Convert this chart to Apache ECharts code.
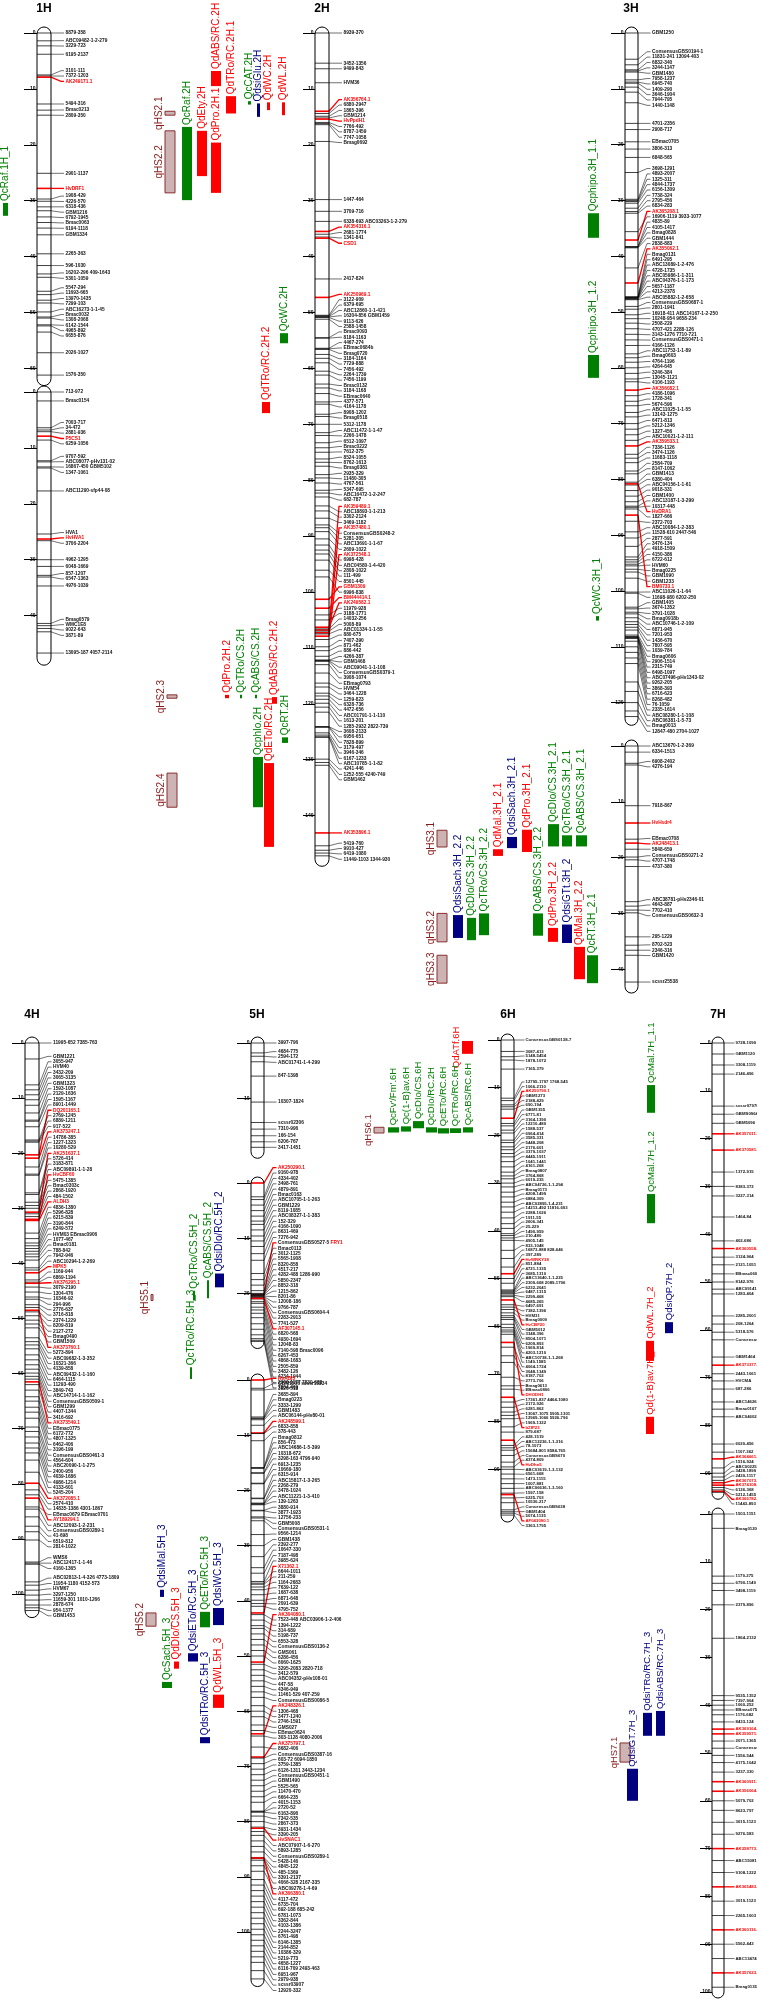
<!DOCTYPE html>
<html><head><meta charset="utf-8">
<script src="https://cdn.jsdelivr.net/npm/echarts@6/dist/echarts.min.js"></script>
<style>html,body{margin:0;padding:0;background:#fff}#c{width:757px;height:2003px}</style>
</head><body><div id="c"></div>
<script>
const FONT = 'Liberation Sans';

// ================= DATA =================
const CHROM_NAMES = ['1H','2H','3H','4H','5H','6H','7H'];
const SEG_LEN = {'1H_1':62,'1H_2':47.8,'2H':148,'3H_1':123,'3H_2':43.2,'4H':103.2,'5H_1':19.8,'5H_2':28.9,'5H_3':108.8,'6H':99.8,'7H_1':94.2,'7H_2':100};
const TICKS = {
 '1H_1':[0,10,20,30,40,50,60],'1H_2':[0,10,20,30,40],
 '2H':[0,10,20,30,40,50,60,70,80,90,100,110,120,130,140],
 '3H_1':[0,10,20,30,40,50,60,70,80,90,100,110,120],'3H_2':[0,10,20,30,40],
 '4H':[0,10,20,30,40,50,60,70,80,90,100],
 '5H_1':[0,10],'5H_2':[0,10,20],'5H_3':[0,10,20,30,40,50,60,70,80,90,100],
 '6H':[0,10,20,30,40,50,60,70,80,90],
 '7H_1':[0,10,20,30,40,50,60,70,80,90],'7H_2':[0,10,20,30,40,50,60,70,80,90,100]
};

// markers: [cM, name, highlighted(1) / partly highlighted(2)]
const M1H_1 = [[0,"8879-358"],[1.4,"ABC09482-1-2-279"],[2.3,"3229-723"],[3.8,"6195-2137"],[7.5,"3101-111"],[7.7,"7372-1203"],[7.9,"AK249171.1",1],[12.7,"5494-316"],[13.8,"Bmac0213"],[14.7,"2809-350"],[25.1,"2901-1137"],[27.8,"HvDRF1",1],[29.7,"1908-429"],[30.1,"4226-570"],[31.1,"6318-436"],[31.8,"GBM1216"],[32.9,"6792-1945"],[33.9,"Bmac0063"],[34.9,"6194-1118"],[36.1,"GBM1334"],[39.5,"2265-363"],[41.6,"596-1030"],[43.1,"16202-296 409-1643"],[43.7,"5301-1059"],[46.2,"5547-294"],[46.8,"11693-665"],[47.8,"13970-1435"],[48.3,"7299-103"],[49.9,"ABC16273-1-1-45"],[50.8,"Bmac0032"],[51.0,"1308-2068"],[52.2,"6142-1544"],[52.4,"4965-892"],[53.5,"6655-876"],[57.2,"2026-1027"],[61.2,"1576-350"]];
const M1H_2 = [[0,"713-972"],[1.6,"Bmac0154"],[6.4,"7003-717"],[6.8,"34-472"],[7.1,"2881-936"],[7.9,"P5CS1",1],[8.6,"6259-1056"],[12.3,"9707-592"],[12.5,"ABC08077-pHv131-02"],[13.4,"16867-450 GBM5102"],[13.6,"1347-1061"],[17.7,"ABC11290-sfp44-08"],[25.4,"HVA1"],[26.3,"HvHVA1",1],[26.6,"3706-2204"],[30,"4962-1295"],[31.2,"6048-1669"],[32.8,"857-1207"],[33.1,"6547-1363"],[34.7,"4976-1039"],[41.4,"Bmag0579"],[41.8,"WMC1E8"],[42.3,"9022-643"],[42.9,"3871-89"],[46.7,"13095-187 4057-2114"]];
const M2H = [[0,"8939-370"],[5.4,"3452-1356"],[6.4,"9499-843"],[8.9,"HVM36"],[14.0,"AK356764.1",1],[14.4,"6880-2947"],[14.9,"1865-396"],[15.2,"GBM1214"],[15.4,"HvPpdH1",1],[16.0,"7766-492"],[16.2,"8787-1459"],[16.4,"7747-1058"],[19.4,"Bmag0692"],[29.8,"1447-464"],[31.9,"3709-716"],[33.7,"6338-693 ABC03263-1-2-279"],[35.5,"AK354316.1",1],[36.0,"2681-1774"],[36.5,"1341-841"],[36.7,"CSD1",1],[44.0,"2417-824"],[47.3,"AK250969.1",1],[50.5,"3122-909"],[50.6,"6379-695"],[50.7,"ABC12860-1-1-421"],[50.8,"16304-856 GBM1459"],[50.9,"9113-626"],[51.2,"2588-1458"],[54.5,"Bmac0093"],[54.6,"8184-1163"],[56.4,"4467-274"],[56.5,"EBmac0684b"],[56.6,"Bmag0720"],
[57.5,"3184-1164"],[58.2,"7729-888"],[59.0,"7456-492"],[60.5,"2264-1739"],[61.2,"7456-1199"],[62.8,"Bmac0132"],[63.5,"3184-1168"],[64.5,"EBmac0640"],[66.0,"4377-571"],[66.4,"4164-1178"],[68.2,"8908-1202"],[68.6,"Bmag0518"],[70.0,"5312-1178"],[71.5,"ABC11472-1-1-47"],[72.0,"2266-1478"],[73.3,"6512-1097"],[74.2,"Bmac0222"],[75.0,"7612-375"],[76.2,"8524-1055"],[76.8,"8762-1613"],[77.5,"Bmag0381"],[79.0,"2935-329"],[79.6,"11480-305"],[80.5,"4767-561"],[81.8,"5347-695"],[82.3,"ABC16472-1-2-247"],[83.0,"682-787"],[106.8,"AK359489.1",1],[84.6,"ABC18893-1-1-213"],[85.5,"3302-2124"],[86.8,"3469-1182"],[107.3,"AK357480.1",1],[88.0,"ConsensusGBS0248-2"],[88.5,"5281-305"],[89.2,"ABC13691-1-1-67"],[90.5,"2609-1022"],[107.9,"AK372548.1",1],[91.6,"6998-428"],
[92.5,"ABC04580-1-4-420"],[93.2,"2808-1022"],[94.3,"111-499"],[96.1,"8501-445"],[101.3,"GBM1309",1],[97.3,"6996-838"],[102.9,"BM444414.1",1],[106.3,"AK249582.1",1],[104.1,"11979-928"],[105,"3188-1771"],[106.6,"14032-256"],[107,"5008-89"],[107.5,"ABC01334-1-1-55"],[108.5,"880-675"],[109.8,"7407-390"],[110.5,"871-462"],[111.5,"886-442"],[112.2,"4266-387"],[112.2,"GBM1468"],[112.3,"ABC09041-1-1-108"],[112.4,"ConsensusGBS0379-1"],[113,"3908-1074"],[114.5,"EBmag0793"],[116.3,"HVM54"],[117,"3464-1228"],[118.1,"1259-823"],[118.6,"6328-736"],[119.2,"4472-656"],[119.9,"ABC01791-1-1-110"],[120.6,"1613-201"],[121.5,"1285-2932 2822-739"],[124.1,"3608-2133"],[124.1,"6956-651"],[124.2,"7828-899"],[125.2,"3179-497"],[125.6,"3946-346"],[125.9,"6167-1233"],[126,"ABC10785-1-1-82"],[129.9,"4241-446"],[130.5,"1252-555 4240-749"],[131,"GBM1462"],
[143.1,"AK353896.1",1],[145.4,"5419-760"],[146.2,"9910-427"],[146.7,"6419-1080"],[147.2,"11449-1103 1344-930"]];
const M3H_1 = [[0,"GBM1250"],[4.7,"ConsensusGBS0194-1"],[5.7,"11831-241 13094-403"],[6.6,"6832-340"],[6.8,"3244-1147"],[7.0,"GBM1480"],[8.4,"7958-1237"],[8.8,"6945-740"],[9.0,"1409-290"],[9.7,"3646-1904"],[10.6,"7944-795"],[12.5,"1440-1148"],[16.2,"4701-2356"],[17.3,"2908-717"],[19.5,"EBmac0705"],[20.8,"3806-313"],[22.3,"6848-565"],[25.0,"3698-1291"],
[29.8,"4893-2007"],[30.0,"1325-311"],[30.2,"4844-1737"],[30.5,"6156-1309"],[31.4,"7738-324"],[32.0,"2795-456"],[32.3,"6834-283"],[37.1,"AK365208.1",1],[35.6,"16906-1119 3933-1077"],[38.3,"4835-89"],[38.3,"4105-1417"],[38.4,"Bmag0828"],[38.5,"GBM1444"],[42.1,"2838-883"],[44.8,"AK355062.1",1],
[47.3,"Bmag0131"],[47.3,"6491-295"],[47.4,"ABC13089-1-2-476"],[47.4,"4728-1735"],[47.5,"ABC05986-1-1-311"],[47.5,"ABC04376-1-1-173"],[47.6,"5657-1187"],[47.7,"4213-2378"],[47.8,"ABC05882-1-2-658"],[49,"ConsensusGBS0687-1"],[49.5,"2801-1941"],[50.5,"16918-411 ABC14167-1-2-250"],[51.2,"10248-954 9658-234"],[52,"2508-229"],[53,"4707-421 2288-126"],[54,"3143-1276 7710-721"],[55,"ConsensusGBS0471-1"],
[56,"4166-1126"],[57.5,"ABC11753-1-1-89"],[58.2,"Bmag0603"],[59,"4764-1196"],[60,"4264-645"],[61,"3246-384"],[62,"13045-1121"],[62.5,"4106-1193"],[64,"AK356082.1",1],[65,"4186-1096"],[66,"1728-341"],[66.8,"5674-596"],[68,"ABC11025-1-1-55"],[68.8,"13143-1275"],[70,"6471-813"],[71,"5212-1346"],[72,"1327-456"],[73,"ABC10021-1-2-111"],[74,"AK359533.1",1],[75.5,"7336-1126"],[76.2,"3474-1126"],[77,"11683-1118"],[78.5,"2584-709"],[79,"8147-1062"],[80.5,"GBM1413"],[81,"6380-404"],[82,"ABC04156-1-1-61"],[83,"9018-331"],
[84,"GBM1400"],[84.8,"ABC13187-1-3-299"],[85,"10317-448"],[80.8,"HvDRA1",1],[85.3,"1827-666"],[87.5,"2372-703"],[89.4,"ABC10084-1-2-383"],[90.5,"11528-610 2447-546"],[92,"2877-591"],[93.9,"3476-134"],[94.4,"4918-1509"],[94.8,"4150-386"],[95.2,"6722-612"],[95.5,"HVM60"],[96.1,"Bmag0225"],[96.6,"GBM1090"],[97.7,"GBM1233"],[86.4,"BM0733.1",1],
[100.2,"ABC11026-1-1-64"],[100.4,"11698-980 6202-250"],[102.9,"GBM1405"],[103.2,"3674-1352"],[103.8,"3791-1028"],[104.1,"Bmag0918b"],[104.8,"ABC10746-1-2-109"],[105.5,"6871-945"],[106,"7201-953"],[106.5,"1436-670"],[107,"7807-595"],[107.9,"1039-784"],[108.2,"Bmag0606"],[108.2,"2906-1514"],[108.3,"2315-749"],[108.4,"6498-1097"],[108.5,"ABC07496-pHv1343-02"],[109,"9262-205"],[110,"3868-393"],[111,"6716-623"],[112,"8268-482"],[113,"76-1059"],[116.3,"2335-1614"],[118,"ABC08280-1-1-108"],[120,"ABC06381-1-5-73"],[121.5,"Bmag0013"],[122.5,"12847-480 2704-1027"]];
const M3H_2 = [[0,"ABC13670-1-2-369"],[1.1,"6334-1513"],[3.1,"6908-2402"],[3.4,"4276-194"],[10.7,"7918-867"],[13.8,"HvHsdr4",1],[16.7,"EBmac0708"],[17.4,"AK248413.1",1],[18.5,"5848-659"],[19.9,"ConsensusGBS0271-2"],[20.4,"4707-1748"],[21.6,"4737-380"],[27.9,"ABC38781-pHv2346-01"],[28.7,"4643-887"],[29.4,"7702-410"],[29.9,"ConsensusGBS0632-3"],[34.2,"295-1229"],[35.7,"8702-523"],[36.6,"2346-316"],[37.5,"GBM1420"],[42.3,"scssr25538"]];
const M4H = [[0,"11995-652 7385-763"],[2.9,"GBM1221"],[7.6,"3055-947"],[8.5,"HVM40"],[9.4,"3432-209"],[10.3,"3065-3135"],[11.3,"GBM1323"],[12.7,"1593-1087"],[14,"2129-1636"],[14.2,"1595-1167"],[15.2,"8901-1449"],[20.3,"DQ201165.1",1],[17.6,"2769-1245"],[17.8,"6889-1211"],[18,"917-522"],[20.9,"AK373247.1",1],[22.5,"14786-385"],[23.8,"1227-1323"],[24,"10280-529"],[30.7,"AK251637.1",1],[27.2,"5726-414"],[27.5,"3183-871"],[28.9,"ABC09891-1-1-28"],[32,"HvCBF60",1],[29.5,"5475-1385"],[30,"Bmac0303c"],[31,"2868-1920"],[31.5,"484-1502"],[32.2,"ALDH3",1],[34.5,"4836-1380"],[35.5,"5296-828"],[36.3,"6215-839"],[36.8,"3190-844"],[37.3,"6249-572"],[37.8,"HVM03 EBmac0906"],[38.3,"1077-467"],[38.8,"Bmac0181"],[39.4,"788-842"],[40.8,"7942-946"],[41.2,"ABC10294-1-2-269"],[41.7,"MPK5",1],[43,"1169-944"],[43.4,"6869-1194"],[43.6,"AK376295.1",1],[44.3,"3079-2190"],[45.2,"1304-476"],[46.1,"10346-92"],[46.5,"294-996"],[47.5,"2776-637"],[48,"3716-818"],[48.8,"2374-1229"],[49.5,"8209-819"],[50.3,"2127-272"],[51,"Bmag0490"],[51.7,"GBM1509"],[48.5,"AK373760.1",1],[53.5,"5273-894"],[54.2,"ABC09682-1-3-352"],[54.8,"10321-366"],[55.5,"4139-858"],[56.6,"ABC09432-1-1-160"],[57.5,"6464-1115"],[58.4,"11293-490"],[59.2,"3849-743"],[59.9,"ABC14714-1-1-162"],[60.5,"ConsensusGBS0509-1"],[61,"GBM1299"],[62,"4407-1344"],[63,"3416-692"],[61.5,"AK373549.1",1],[64.2,"EBmac0775"],[65,"6172-772"],[66.1,"4807-1325"],[67,"6462-406"],[68.1,"3196-199"],[69.7,"ConsensusGBS0461-3"],[70.5,"4564-604"],[71.5,"ABC20090-1-1-275"],[72.6,"2400-956"],[73.5,"4039-1686"],[74.4,"4986-1214"],[75.7,"4133-601"],[77.9,"5245-204"],[79.9,"AK372085.1",1],[81.1,"2574-410"],[82,"14835-1386 4301-1867"],[84.2,"EBmac0679 EBmac0701"],[82.6,"AY189294.1",1],[84.6,"ABC12093-1-2-231"],[86,"ConsensusGBS0289-1"],[87.7,"41-698"],[88.7,"6519-812"],[90.2,"2814-1022"],[94.2,"WMS6"],[94.4,"ABC12417-1-1-46"],[94.6,"4160-1365"],[97.8,"ABC02813-1-4-326 4773-1809"],[98.4,"11954-1180 4152-573"],[99.3,"HVM67"],[100.2,"3297-1250"],[101.1,"11659-301 1010-1266"],[102,"2878-674"],[102.5,"954-1377"],[103,"GBM1453"]];
const M5H_1 = [[0,"3997-796"],[1.8,"4684-775"],[2.4,"2594-172"],[3.4,"ABC01741-1-4-299"],[6,"847-1398"],[10.7,"10307-1824"],[14.4,"scssr02306"],[15.6,"7310-996"],[16.8,"166-154"],[17.9,"6206-767"],[18.9,"3417-1451"]];
const M5H_2 = [[0,"AK250290.1",1],[2.5,"9160-978"],[3,"4334-402"],[4,"3498-761"],[5,"4879-891"],[6,"Bmac0163"],[6.9,"ABC10705-1-1-263"],[7.5,"GBM1229"],[8.5,"8119-1085"],[9.6,"ABC08327-1-1-383"],[10.5,"152-329"],[11.5,"4166-1090"],[12.8,"8631-469"],[14,"7276-942"],[20.3,"ConsensusGBS0527-5|FRY1",2],[16.4,"Bmac0113"],[17.5,"3012-1125"],[18.5,"5565-1908"],[19.5,"8320-858"],[20,"4517-217"],[20.1,"4282-488 1286-990"],[20.2,"5850-2347"],[20.3,"8852-318"],[20.4,"1215-862"],[20.5,"8201-86"],[20.6,"12008-186"],[20.7,"9766-787"],[20.8,"ConsensusGBS0604-4"],[21,"2283-2913"],[21.5,"7741-527"],[20.9,"AF307145.1",1],[21.8,"6820-568"],[22.5,"4930-1694"],[23,"12048-83"],[23.6,"7140-598 Bmac0096"],[24.4,"6267-453"],[25.5,"4868-1683"],[26.5,"2505-859"],[27.5,"3482-126"],[28.2,"4234-1944"],[28.5,"2906-1177 7830-633"],[28.7,"7804-469"]];
const M5H_3 = [[0,"HvABI5",1],[1.5,"GBM1506 scssr15334"],[1.8,"3926-513"],[6.7,"3685-894"],[6.9,"Bmag0223"],[7.0,"3333-1299"],[7.2,"GBM1483"],[8.2,"ABC06144-pHv80-01"],[9.6,"AK248599.1",1],[9.7,"6833-858"],[11,"378-443"],[15.9,"Bmag0812"],[15.9,"856-473"],[16,"ABC14686-1-5-399"],[16.8,"10318-672"],[16.9,"3298-163 4796-940"],[18.7,"6913-1235"],[18.8,"10669-180"],[21.4,"6315-914"],[21.5,"ABC15817-1-3-265"],[22.3,"2268-279"],[22.4,"3478-1024"],[22.5,"ABC11221-1-3-410"],[22.6,"139-1263"],[23.6,"3880-914"],[23.7,"3877-1923"],[24.8,"12756-233"],[25,"GBM5008"],[25.5,"ConsensusGBS0531-1"],[28,"9566-1214"],[30,"GBM1438"],[32,"2392-277"],[34,"10647-330"],[35,"7187-498"],[36.5,"3985-624"],[42.2,"X71362.1",1],[36.8,"6644-1011"],[37,"211-259"],[37.5,"1164-2683"],[38,"7639-122"],[38.9,"1687-638"],[39.9,"6871-648"],[40.5,"2091-639"],[41,"4795-752"],[51.1,"AK364080.1",1],[42.5,"7523-448 ABC03906-1-2-406"],[43.5,"1394-1222"],[44.5,"314-689"],[45,"5198-737"],[46,"6553-328"],[47,"ConsensusGBS0136-2"],[48,"GMS061"],[49,"6286-456"],[50,"6060-1625"],[51.5,"3295-2083 2820-718"],[52.5,"3412-579"],[53.5,"ABC04352-pHv108-01"],[54.5,"447-58"],[55.5,"4346-949"],[56.5,"11461-529 407-259"],[57.5,"ConsensusGBS0086-5"],[64.1,"AK248326.1",1],[59,"1306-468"],[60,"3477-1240"],[61,"2746-1591"],[62.5,"GMS027"],[63.5,"EBmac0624"],[64.5,"303-1128 4080-2006"],[68.3,"AK375797.1",1],[66.5,"8682-406"],[68.5,"ConsensusGBS0387-16"],[69.5,"603-72 6094-1850"],[70.5,"3759-1385"],[71.5,"6126-1311 3443-1234"],[72.5,"ConsensusGBS0451-1"],[73.5,"GBM1490"],[74.5,"5525-565"],[75.5,"11470-470"],[76.5,"6664-235"],[78.1,"4015-1153"],[78.2,"2720-52"],[78.3,"6163-896"],[79,"7342-535"],[80,"2867-373"],[81,"3931-1434"],[81.8,"3390-205"],[81.2,"HvSNAC1",1],[82.5,"ABC07907-1-6-270"],[83.5,"5893-1285"],[84.5,"ConsensusGBS0289-1"],[85.5,"5428-146"],[86.5,"4845-122"],[86.7,"485-1369"],[87,"3391-2137"],[88,"4066-328 2167-335"],[89,"ABC09278-1-4-69"],[86.6,"AK366380.1",1],[90.5,"4117-472"],[91.5,"6735-704"],[92.5,"692-188 685-242"],[93.5,"6781-1073"],[94.5,"3362-844"],[95.5,"4103-1386"],[96.5,"2244-3247"],[97.5,"6761-498"],[98.5,"6146-1385"],[99.5,"2144-852"],[100.5,"10386-329"],[101.5,"5219-773"],[102.5,"4658-1227"],[103.5,"6116-709 2493-463"],[104.5,"6951-967"],[105.5,"2979-938"],[107,"scssr03907"],[108.5,"12920-332"]];
const M6H = [[0,"ConsensusGBS0138-7"],[2.4,"3087-413"],[3.5,"5148-5454"],[4.2,"1878-1072"],[6.1,"7165-379"],[12.2,"12795-1797 1768-545"],[12.7,"1066-2110"],[16.4,"AK250790.1",1],[13.6,"GBM1273"],[14,"2188-429"],[14.5,"690-194"],[17.5,"GBM1355"],[18,"6771-81"],[18.9,"3164-1390"],[19.5,"12210-480"],[21,"1588-537"],[21.5,"6964-414"],[22.4,"3585-331"],[23,"5448-208"],[23.8,"2176-601"],[24.5,"3379-1037"],[25.5,"4445-1911"],[26.6,"1041-1441"],[27.7,"4161-268"],[28.5,"Bmag0807"],[29.1,"3764-868"],[30,"6019-235"],[30.8,"ABC04726-1-1-294"],[31.9,"Bmag0173"],[32.9,"4208-1499"],[34,"6884-309"],[35,"ABC02895-1-4-231"],[36.1,"14213-492 11816-693"],[37.3,"2288-1026"],[38.5,"1911-55"],[39.5,"2606-341"],[40.6,"25-229"],[41,"1490-959"],[41.5,"210-480"],[42,"4905-145"],[44.1,"833-1048"],[45.8,"16873-888 828-646"],[47.6,"397-289"],[49,"HvWRKY38",1],[50,"851-884"],[51,"4721-1335"],[52.4,"3685-1310"],[52.6,"ABC13640-1-1-225"],[52.8,"2309-668 2089-1796"],[53,"6232-2041"],[53.2,"6487-1315"],[53.5,"2299-468"],[53.8,"4685-265"],[55.5,"6497-691"],[56,"7382-1396"],[56.5,"HVM31"],[57.2,"Bmag0009"],[54.5,"HvCBF20",1],[57.8,"GBM5012"],[58.2,"3348-396"],[58.6,"8504-1071"],[59.6,"6209-893"],[60.3,"1969-814"],[60.8,"4203-1210"],[61.2,"ABC10738-1-1-268"],[61.7,"1149-1585"],[64.4,"4064-1724"],[66.2,"3048-1349"],[67.6,"8187-702"],[70.7,"2773-706"],[72.5,"Bmag0613"],[73.2,"EBmac0806"],[63.4,"DHODH1",1],[75.9,"17361-837 4464-1080"],[77,"2172-926"],[78,"6281-862"],[78.7,"13067-1075 5905-1301"],[79.4,"12969-1066 5926-796"],[81.1,"1969-1322"],[74.9,"bZIP23",1],[82.2,"879-687"],[85,"428-1519"],[85.5,"ABC12236-1-1-316"],[86,"78-1073"],[87.1,"15684-801 8584-765"],[88.5,"ConsensusGBS670"],[89.5,"4374-809"],[83.9,"HvDhn5",1],[90,"ABC03619-1-3-132"],[91,"6561-668"],[92,"1473-1115"],[93,"1007-881"],[94,"ABC06636-1-3-160"],[95,"1597-158"],[96,"6225-703"],[97,"10530-217"],[98.5,"ConsensusGBS638"],[98.9,"GBM1404"],[99.2,"5074-1135"],[95.3,"AF043090.1",1],[99.6,"3363-1795"]];
const M7H_1 = [[0,"9728-1090"],[2.3,"GBM1120"],[4.6,"3308-1119"],[6.5,"2146-496"],[13.2,"scssr07970"],[14.9,"GBMS0964 1085-347"],[16.8,"GBM5096"],[19,"AK357011.1",1],[22.4,"AK370581.1",1],[27,"1372-915"],[30,"8383-372"],[32,"3227-314"],[36.4,"1464-84"],[41.4,"402-686"],[43,"AK360558.1",1],[44.8,"3124-964"],[46.4,"2121-1051"],[48.3,"EBmac0603"],[50,"8142-976"],[51.5,"ABC09141-1-1-98"],[52.5,"1283-404"],[57.1,"2285-2001"],[58.8,"208-1264"],[60.5,"5318-576"],[62.1,"ConsensusGBS0543-1"],[65.7,"GBM1464"],[67.4,"AK373377.1",1],[69.2,"2443-1061"],[70.7,"HVCMA"],[72.4,"687-286"],[75.1,"ABC14626-1-1-75"],[76.6,"Bmac0167"],[78.2,"ABC04602-1-2-362"],[83.9,"6020-456"],[85.6,"1107-362"],[87,"AK364661.1",1],[88.9,"1516-924"],[90,"ABC00225-1-1-112"],[90.8,"3428-1899"],[91.5,"2430-1117"],[92,"AK367073.1",1],[92.5,"AK374108.1",1],[93,"6126-368"],[93.5,"5212-1455"],[93.8,"AK366782.1",1],[94,"11443-893"]];
const M7H_2 = [[0,"1503-1151"],[3,"Bmag0120"],[13,"1179-275"],[14.5,"6790-1149"],[16,"3498-1119"],[19,"2379-896"],[26,"1864-2132"],[38,"9535-1352"],[39,"7397-904"],[40,"1060-252"],[41,"EBmac0755"],[42,"1176-682"],[43.5,"8433-124"],[45,"AK369164.1",1],[46,"AK359571.1",1],[47.5,"2071-1365"],[49,"ConsensusGBS0580-1"],[50.5,"1556-544"],[52,"4175-1042"],[54,"3237-330"],[56,"AK360911.1",1],[58,"AK356064.1",1],[60,"5079-702"],[62,"8623-797"],[64.5,"3615-1123"],[67,"9276-583"],[70,"AK358773.1",1],[72.5,"ABC15081-1-2-96"],[75,"9108-1222"],[78,"AK365483.1",1],[81,"3019-1123"],[84,"2265-1003"],[87,"AK360116.1",1],[90,"5562-443"],[93,"ABC13474-1-1-77"],[96,"AK357623.1",1],[99,"Bmag0135"]];

// QTLs: [name, segment, start cM, end cM, trait group]
const QTL_1H = [["QcRaf.1H_1","1H_1",30.4,32.7,"g"]];
const QTL_2H = [["qHS2.1","2H",14.0,14.7,"hs"],["qHS2.2","2H",17.5,28.6,"hs"],["QcRaf.2H","2H",16.8,29.9,"g"],["QdEty.2H","2H",17.5,25.6,"r"],["QdPro.2H.1","2H",19.6,28.6,"r"],["QdABS/RC.2H","2H",6.8,9.5,"r"],["QdTRo/RC.2H.1","2H",11.3,14.4,"r"],["QcCAT.2H","2H",12.2,12.8,"g"],["QdsiGlu.2H","2H",12.6,15.0,"b"],["QdWC.2H","2H",12.4,13.8,"r"],["QdWL.2H","2H",12.4,14.7,"r"],["QcWC.2H","2H",53.7,55.5,"g"],["QdTRo/RC.2H.2","2H",66.0,68.0,"r"],["qHS2.3","2H",118.4,119.0,"hs"],["qHS2.4","2H",132.4,138.5,"hs"],["QdPro.2H.2","2H",118.4,119.0,"r"],["QcTRo/CS.2H","2H",118.4,119.0,"g"],["QcABS/CS.2H","2H",118.4,119.0,"g"],["QcphIo.2H","2H",129.5,138.5,"g"],["QdETo/RC.2H","2H",130.6,145.6,"r"],["QdABS/RC.2H.2","2H",118.8,120.0,"r"],["QcRT.2H","2H",126.0,127.0,"g"]];
const QTL_3H = [["Qcphipo.3H_1.1","3H_1",32.3,36.7,"g"],["Qcphipo.3H_1.2","3H_1",57.7,61.8,"g"],["QcWC.3H_1","3H_1",104.5,105.3,"g"],["qHS3.1","3H_2",15.1,18.1,"hs"],["qHS3.2","3H_2",30.0,35.1,"hs"],["qHS3.3","3H_2",37.5,42.5,"hs"],["QdsiSach.3H_2.2","3H_2",30.3,34.4,"b"],["QcDIo/CS.3H_2.2","3H_2",30.8,34.8,"g"],["QcTRo/CS.3H_2.2","3H_2",30.0,33.9,"g"],["QdMal.3H_2.1","3H_2",18.5,19.7,"r"],["QdsiSach.3H_2.1","3H_2",16.3,18.3,"b"],["QdPro.3H_2.1","3H_2",15.0,19.0,"r"],["QcABS/CS.3H_2.2","3H_2",30.0,34.0,"g"],["QcDIo/CS.3H_2.1","3H_2",14.0,18.0,"g"],["QdPro.3H_2.2","3H_2",32.6,35.1,"r"],["QcTRo/CS.3H_2.1","3H_2",16.0,18.0,"g"],["QdsiGTt.3H_2","3H_2",32.0,35.3,"b"],["QcABS/CS.3H_2.1","3H_2",16.0,18.0,"g"],["QdMal.3H_2.2","3H_2",36.0,41.8,"r"],["QcRT.3H_2.1","3H_2",37.5,42.5,"g"]];
const QTL_5H = [["qHS5.1","5H_2",20.2,21.3,"hs"],["QcTRo/CS.5H_2","5H_2",19.5,21.3,"g"],["QcABS/CS.5H_2","5H_2",17.6,20.9,"g"],["QdsiDIo/RC.5H_2","5H_2",16.4,18.9,"b"],["QcTRo/RC.5H_3","5H_3",-2.3,-0.2,"g"],["QdsiMal.5H_3","5H_3",38.0,39.3,"b"],["qHS5.2","5H_3",42.2,44.6,"hs"],["QcSach.5H_3","5H_3",54.7,55.8,"g"],["QdDIo/CS.5H_3","5H_3",51.0,52.3,"r"],["QdsiETo/RC.5H_3","5H_3",49.5,51.0,"b"],["QcETo/RC.5H_3","5H_3",42.0,44.8,"g"],["QdsiWC.5H_3","5H_3",41.3,44.4,"b"],["QdWL.5H_3","5H_3",57.0,59.4,"r"],["QdsiTRo/RC.5H_3","5H_3",64.7,65.8,"b"]];
const QTL_6H = [["QdATf.6H","6H",0.2,2.9,"r"],["qHS6.1","6H",18.3,19.5,"hs"],["QcFv'/Fm'.6H","6H",18.3,19.4,"g"],["Qc(1-B)av.6H","6H",18.1,19.2,"g"],["QcDIo/CS.6H","6H",17.0,18.5,"g"],["QcDIo/RC.2H","6H",18.3,19.4,"g"],["QcETo/RC.6H","6H",18.5,19.6,"g"],["QcTRo/RC.6H","6H",18.5,19.5,"g"],["QcABS/RC.6H","6H",18.3,19.4,"g"]];
const QTL_7H = [["QcMal.7H_1.1","7H_1",8.8,14.6,"g"],["QcMal.7H_1.2","7H_1",31.6,37.7,"g"],["QdsiQP.7H_2","7H_1",58.4,60.7,"b"],["QdWL.7H_2","7H_1",62.3,66.5,"r"],["Qd(1-B)av.7H_2","7H_1",78.2,81.8,"r"],["qHS7.1","7H_2",47.9,51.9,"hs"],["QdsiGT.7H_3","7H_2",53.3,60.0,"b"],["QdsiTRo/RC.7H_3","7H_2",41.6,46.4,"b"],["QdsiABS/RC.7H_3","7H_2",41.2,46.4,"b"]];

// ================= LAYOUT / STYLE =================
const CHROM_LAYOUT = {
 '1H':{left:37,width:14,scale:5.59,lh:5.36,fs:4.8,qfs:10,tx:44,ty:9,off:14.5,diag:10,conn:13,tick:13},
 '2H':{left:315,width:14,scale:5.59,lh:5.36,fs:4.8,qfs:10,tx:322,ty:9,off:14.5,diag:10,conn:13,tick:12},
 '3H':{left:625,width:13,scale:5.58,lh:5.36,fs:4.8,qfs:10,tx:631,ty:9,off:14,diag:9,conn:12.5,tick:14},
 '4H':{left:25,width:14,scale:5.51,lh:5.39,fs:4.8,qfs:10,tx:32,ty:1015,off:14,diag:9,conn:12.5,tick:13},
 '5H':{left:251,width:13,scale:5.52,lh:5.37,fs:4.8,qfs:10,tx:257,ty:1015,off:14,diag:9,conn:12.5,tick:14},
 '6H':{left:501,width:13,scale:4.77,lh:4.67,fs:4.3,qfs:9.5,tx:508,ty:1015,off:11.5,diag:8,conn:10.5,tick:13},
 '7H':{left:712,width:12,scale:4.78,lh:4.67,fs:4.3,qfs:9.5,tx:718,ty:1015,off:11.5,diag:8,conn:10.5,tick:12}
};
const SEG_LAYOUT = [
 {id:'1H_1',chrom:'1H',y0:33,markers:M1H_1},{id:'1H_2',chrom:'1H',y0:392,markers:M1H_2},
 {id:'2H',chrom:'2H',y0:33,markers:M2H},
 {id:'3H_1',chrom:'3H',y0:33,markers:M3H_1},{id:'3H_2',chrom:'3H',y0:746,markers:M3H_2},
 {id:'4H',chrom:'4H',y0:1043,markers:M4H},
 {id:'5H_1',chrom:'5H',y0:1043,markers:M5H_1},{id:'5H_2',chrom:'5H',y0:1183,markers:M5H_2},{id:'5H_3',chrom:'5H',y0:1380,markers:M5H_3},
 {id:'6H',chrom:'6H',y0:1040,markers:M6H},
 {id:'7H_1',chrom:'7H',y0:1043,markers:M7H_1},{id:'7H_2',chrom:'7H',y0:1514,markers:M7H_2}
];
const QTL_POS = {
 'QcRaf.1H_1':[3,5],
 'qHS2.1':[165,10],'qHS2.2':[165,10],'QcRaf.2H':[182,10],'QdEty.2H':[197,10],'QdPro.2H.1':[211,10],'QdABS/RC.2H':[211,10],'QdTRo/RC.2H.1':[226,10],'QcCAT.2H':[248,3],'QdsiGlu.2H':[257,3],'QdWC.2H':[267,3],'QdWL.2H':[282,3],'QcWC.2H':[280,8],'QdTRo/RC.2H.2':[262,8],
 'qHS2.3':[167,10],'qHS2.4':[167,10],'QdPro.2H.2':[225,4],'QcTRo/CS.2H':[240,2],'QcABS/CS.2H':[255,2],'QcphIo.2H':[253,10],'QdETo/RC.2H':[264,10],'QdABS/RC.2H.2':[272,5],'QcRT.2H':[282,6],
 'Qcphipo.3H_1.1':[588,11],'Qcphipo.3H_1.2':[588,11],'QcWC.3H_1':[596,3],
 'qHS3.1':[437,10],'qHS3.2':[437,10],'qHS3.3':[437,10],'QdsiSach.3H_2.2':[453,10],'QcDIo/CS.3H_2.2':[467,9],'QcTRo/CS.3H_2.2':[479,10],'QdMal.3H_2.1':[493,10],'QdsiSach.3H_2.1':[507,10],'QdPro.3H_2.1':[522,10],'QcABS/CS.3H_2.2':[533,10],'QcDIo/CS.3H_2.1':[548,11],'QdPro.3H_2.2':[548,10],'QcTRo/CS.3H_2.1':[562,10],'QdsiGTt.3H_2':[562,10],'QcABS/CS.3H_2.1':[576,11],'QdMal.3H_2.2':[574,11],'QcRT.3H_2.1':[587,11],
 'qHS5.1':[151,2],'QcTRo/CS.5H_2':[193,2],'QcABS/CS.5H_2':[207,2],'QdsiDIo/RC.5H_2':[215,9],'QcTRo/RC.5H_3':[190,2],'QdsiMal.5H_3':[160,4],'qHS5.2':[146,10],'QcSach.5H_3':[162,10],'QdDIo/CS.5H_3':[174,5],'QdsiETo/RC.5H_3':[188,10],'QcETo/RC.5H_3':[200,10],'QdsiWC.5H_3':[213,11],'QdWL.5H_3':[213,11],'QdsiTRo/RC.5H_3':[200,10],
 'QdATf.6H':[462,11],'qHS6.1':[374,10],"QcFv'/Fm'.6H":[388,11],'Qc(1-B)av.6H':[401,10],'QcDIo/CS.6H':[413,11],'QcDIo/RC.2H':[426,11],'QcETo/RC.6H':[438,11],'QcTRo/RC.6H':[450,11],'QcABS/RC.6H':[463,10],
 'QcMal.7H_1.1':[647,8],'QcMal.7H_1.2':[647,8],'QdsiQP.7H_2':[665,8],'QdWL.7H_2':[646,8],'Qd(1-B)av.7H_2':[646,8],'qHS7.1':[620,10],'QdsiGT.7H_3':[627,11],'QdsiTRo/RC.7H_3':[643,9],'QdsiABS/RC.7H_3':[656,9]
};
const LEFT_LABEL = ['QdATf.6H'];
const QTL_STYLE = {
 r:{fill:'#ff0000',stroke:'#ff0000',lw:0,text:'#ff0000'},
 g:{fill:'#008000',stroke:'#008000',lw:0,text:'#008000'},
 b:{fill:'#000080',stroke:'#000080',lw:0,text:'#000080'},
 hs:{fill:'#cdb3b3',stroke:'#8b2e2e',lw:1,text:'#8b1a1a'}
};
const ALL_QTL = [].concat(QTL_1H, QTL_2H, QTL_3H, QTL_5H, QTL_6H, QTL_7H);

// 1-D label de-overlap (ordered clusters, least squares)
function spread(targets, h) {
  const cl = [];
  for (let i = 0; i < targets.length; i++) {
    cl.push({n:1, s:targets[i], pos:targets[i]});
    while (cl.length > 1) {
      const b = cl[cl.length-1], a = cl[cl.length-2];
      if (a.pos + a.n*h > b.pos) {
        const n = a.n + b.n, s = a.s + b.s - b.n*a.n*h;
        cl.splice(cl.length-2, 2, {n, s, pos:s/n});
      } else break;
    }
  }
  const out = [];
  cl.forEach(c => { for (let k = 0; k < c.n; k++) out.push(c.pos + k*h); });
  return out;
}

function markerRender(markers, L) {
  return function (params, api) {
    const m = markers[params.dataIndex];
    const cs = params.coordSys;
    const y = api.coord([0, api.value(1)])[1];
    const ly = api.coord([0, api.value(2)])[1];
    const x0 = cs.x, x1 = cs.x + cs.width;
    const hl = !!m[2];
    const col = hl ? '#ff0000' : '#111';
    const base = {fontSize:L.fs, fontFamily:FONT, fontWeight:'bold', align:'left', verticalAlign:'middle'};
    let txt;
    if (m[2] === 2) {
      const p = m[1].split('|');
      txt = {type:'text', x:x1+L.off, y:ly, style:Object.assign({text:'{b|'+p[0]+' }{r|'+p[1]+'}',
        rich:{b:{fill:'#111',fontSize:L.fs,fontWeight:'bold',fontFamily:FONT}, r:{fill:'#ff0000',fontSize:L.fs,fontWeight:'bold',fontFamily:FONT}}}, base)};
    } else {
      txt = {type:'text', x:x1+L.off, y:ly, style:Object.assign({text:m[1], fill:col}, base)};
    }
    return {type:'group', children:[
      {type:'line', shape:{x1:x0, y1:y, x2:x1, y2:y}, style:{stroke:col, lineWidth: hl ? 1.6 : 0.8}},
      {type:'polyline', shape:{points:[[x1,y],[x1+L.diag,ly],[x1+L.conn,ly]]}, style:{stroke:col, fill:null, lineWidth: hl ? 1.3 : 0.6}},
      txt
    ]};
  };
}

function qtlRender(list, L) {
  return function (params, api) {
    const q = list[params.dataIndex];
    const pos = QTL_POS[q[0]];
    const st = QTL_STYLE[q[4]];
    const y1 = api.coord([0, api.value(1)])[1];
    const y2 = api.coord([0, api.value(2)])[1];
    const h = Math.max(y2 - y1, 2);
    const left = q[4] === 'hs' || LEFT_LABEL.indexOf(q[0]) >= 0;
    const ts = {text:q[0], fill:st.text, fontSize:L.qfs, fontFamily:FONT, verticalAlign:'middle'};
    const children = [{type:'rect', shape:{x:pos[0], y:y1, width:pos[1], height:h},
      style:{fill:st.fill, stroke: st.lw ? st.stroke : null, lineWidth:st.lw}}];
    if (left) {
      children.push({type:'text', x:pos[0] - L.qfs*0.55, y:y1 + h/2, rotation:Math.PI/2, style:Object.assign({align:'center'}, ts)});
    } else {
      children.push({type:'text', x:pos[0] + pos[1]/2, y:y1 - 2, rotation:Math.PI/2, style:Object.assign({align:'left'}, ts)});
    }
    return {type:'group', children};
  };
}

const option = {animation:false, backgroundColor:'#fff', grid:[], xAxis:[], yAxis:[], series:[], graphic:[]};

SEG_LAYOUT.forEach((s, i) => {
  const L = CHROM_LAYOUT[s.chrom];
  const len = SEG_LEN[s.id];
  option.grid.push({left:L.left, top:s.y0, width:L.width, height:len*L.scale, containLabel:false});
  option.xAxis.push({type:'value', gridIndex:i, min:0, max:1, show:false});
  option.yAxis.push({type:'value', gridIndex:i, min:0, max:len, inverse:true, position:'left',
    axisLine:{show:false}, splitLine:{show:false},
    axisTick:{show:true, length:L.tick, lineStyle:{color:'#000', width:1}, customValues:TICKS[s.id]},
    axisLabel:{show:true, fontSize:5, fontWeight:'bold', color:'#000', margin:1.5, fontFamily:FONT, customValues:TICKS[s.id]}});
  // chromosome body
  const bodyRender = (fill) => function (params, api) {
    const cs = params.coordSys;
    const top = api.coord([0, 0])[1] - 6;
    const bot = api.coord([0, api.value(2)])[1] + 6;
    return {type:'rect', shape:{x:cs.x, y:top, width:cs.width, height:bot-top, r:cs.width/2},
      style: fill ? {fill:'#fff', stroke:null} : {fill:null, stroke:'#000', lineWidth:1}};
  };
  option.series.push({type:'custom', xAxisIndex:i, yAxisIndex:i, z:1, silent:true, data:[[0.5,0,len]], encode:{x:0,y:1}, renderItem:bodyRender(true)});
  // markers
  const tg = s.markers.map(m => m[0]*L.scale);
  const lp = spread(tg, L.lh);
  option.series.push({type:'custom', xAxisIndex:i, yAxisIndex:i, z:2, silent:true,
    data:s.markers.map((m, k) => [0.5, m[0], lp[k]/L.scale]), encode:{x:0,y:1}, renderItem:markerRender(s.markers, L)});
  option.series.push({type:'custom', xAxisIndex:i, yAxisIndex:i, z:3, silent:true, data:[[0.5,0,len]], encode:{x:0,y:1}, renderItem:bodyRender(false)});
  // QTLs
  const ql = ALL_QTL.filter(q => q[1] === s.id);
  if (ql.length) {
    option.series.push({type:'custom', xAxisIndex:i, yAxisIndex:i, z:4, silent:true,
      data:ql.map(q => [0.5, q[2], q[3]]), encode:{x:0,y:1}, renderItem:qtlRender(ql, L)});
  }
});

CHROM_NAMES.forEach(n => {
  const L = CHROM_LAYOUT[n];
  option.graphic.push({type:'text', x:L.tx, y:L.ty, silent:true,
    style:{text:n, fontSize:12, fontWeight:'bold', fontFamily:FONT, fill:'#000', align:'center', verticalAlign:'middle'}});
});

const chart = echarts.init(document.getElementById('c'), null, {renderer:'canvas', devicePixelRatio:1});
chart.setOption(option);
</script></body></html>
